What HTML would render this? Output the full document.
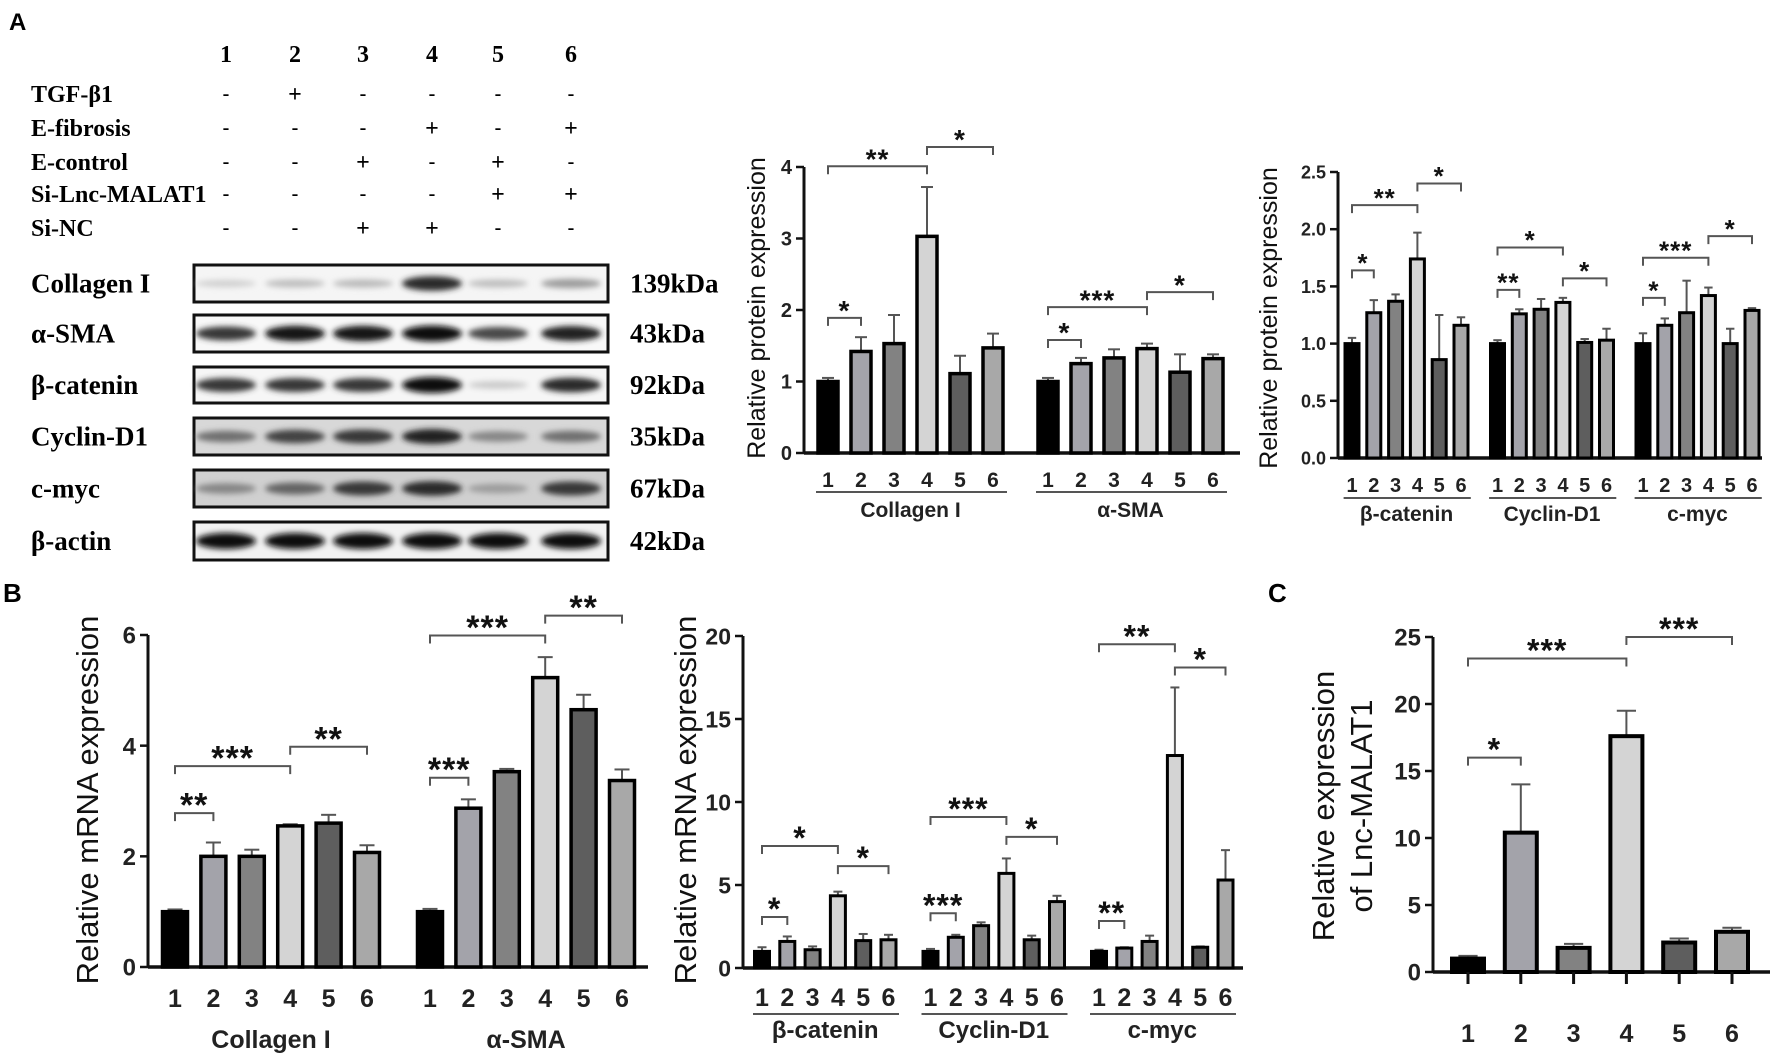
<!DOCTYPE html>
<html><head><meta charset="utf-8"><style>
html,body{margin:0;padding:0;background:#fff;}
svg{display:block;}
.sr{font-family:"Liberation Serif",serif;font-weight:bold;}
.ss{font-family:"Liberation Sans",sans-serif;}
</style></head><body>
<svg id="fig" width="1772" height="1055" viewBox="0 0 1772 1055" xmlns="http://www.w3.org/2000/svg">
<defs><filter id="blur" x="-20%" y="-100%" width="140%" height="300%"><feGaussianBlur stdDeviation="3"/></filter></defs>
<g id="root"></g>
</svg>
<script>
// ---------- Data ----------
const groupsA1 = ["Collagen I", "α-SMA"];
const valsA1 = [[1.0,1.42,1.53,3.03,1.11,1.47],[1.0,1.25,1.33,1.46,1.13,1.32]];
const errsA1 = [[1.05,1.62,1.93,3.72,1.36,1.67],[1.05,1.33,1.45,1.53,1.38,1.38]];
const ticksA1 = ["0","1","2","3","4"];
const groupsA3 = ["β-catenin", "Cyclin-D1", "c-myc"];
const valsA3 = [[1.0,1.27,1.37,1.74,0.86,1.16],[1.0,1.26,1.30,1.36,1.01,1.03],[1.0,1.16,1.27,1.42,1.0,1.29]];
const errsA3 = [[1.05,1.38,1.43,1.97,1.25,1.23],[1.03,1.30,1.39,1.40,1.04,1.13],[1.09,1.22,1.55,1.49,1.13,1.31]];
const ticksA3 = ["0.0","0.5","1.0","1.5","2.0","2.5"];
const groupsB1 = ["Collagen I", "α-SMA"];
const valsB1 = [[1.0,2.0,2.0,2.55,2.6,2.07],[1.0,2.87,3.53,5.23,4.65,3.37]];
const errsB1 = [[1.04,2.25,2.12,2.58,2.75,2.2],[1.05,3.03,3.58,5.6,4.92,3.57]];
const ticksB1 = ["0","2","4","6"];
const groupsB2 = ["β-catenin", "Cyclin-D1", "c-myc"];
const valsB2 = [[1.0,1.6,1.1,4.35,1.65,1.7],[1.0,1.85,2.55,5.7,1.7,4.0],[1.0,1.2,1.6,12.8,1.25,5.3]];
const errsB2 = [[1.25,1.9,1.3,4.6,2.05,2.0],[1.15,2.0,2.75,6.6,1.95,4.35],[1.1,1.25,1.95,16.9,1.3,7.1]];
const ticksB2 = ["0","5","10","15","20"];
const valsC = [1.0,10.4,1.8,17.6,2.2,3.0];
const errsC = [1.2,14.0,2.1,19.5,2.5,3.3];
const ticksC = ["0","5","10","15","20","25"];
const barLabels = ["1","2","3","4","5","6"];
// significance brackets: [group, from, to, level(data units), stars]
const sigA1 = [[0,0,1,1.89,"*"],[0,0,3,4.01,"**"],[0,3,5,4.28,"*"],[1,0,1,1.58,"*"],[1,0,3,2.04,"***"],[1,3,5,2.25,"*"]];
const sigA3 = [[0,0,1,1.64,"*"],[0,0,3,2.21,"**"],[0,3,5,2.40,"*"],[1,0,1,1.47,"**"],[1,0,3,1.84,"*"],[1,3,5,1.57,"*"],[2,0,1,1.40,"*"],[2,0,3,1.75,"***"],[2,3,5,1.94,"*"]];
const sigB1 = [[0,0,1,2.78,"**"],[0,0,3,3.63,"***"],[0,3,5,3.98,"**"],[1,0,1,3.42,"***"],[1,0,3,5.99,"***"],[1,3,5,6.35,"**"]];
const sigB2 = [[0,0,1,3.07,"*"],[0,0,3,7.35,"*"],[0,3,5,6.14,"*"],[1,0,1,3.3,"***"],[1,0,3,9.1,"***"],[1,3,5,7.9,"*"],[2,0,1,2.83,"**"],[2,0,3,19.5,"**"],[2,3,5,18.1,"*"]];
const sigC = [[0,0,1,16.0,"*"],[0,0,3,23.4,"***"],[0,3,5,25.0,"***"]];
// western blot band intensities
const blotProteins = ["Collagen I","α-SMA","β-catenin","Cyclin-D1","c-myc","β-actin"];
const blotKda = ["139kDa","43kDa","92kDa","35kDa","67kDa","42kDa"];
const blotIntensity = [[0.12,0.2,0.22,0.85,0.2,0.35],[0.8,0.95,0.95,1,0.72,0.9],[0.8,0.8,0.8,1,0.15,0.85],[0.55,0.75,0.8,0.9,0.45,0.55],[0.45,0.6,0.8,0.85,0.35,0.8],[1,1,1,1,1,1]];
const treatments = ["TGF-β1","E-fibrosis","E-control","Si-Lnc-MALAT1","Si-NC"];
const treatSigns = [["-","+","-","-","-","-"],["-","-","-","+","-","+"],["-","-","+","-","+","-"],["-","-","-","-","+","+"],["-","-","+","+","-","-"]];

const fills = ["#000000","#a3a3aa","#828282","#d4d4d4","#5e5e5e","#a8a8a8"];
const NS = "http://www.w3.org/2000/svg";
const root = document.getElementById("root");
function mk(tag, attrs, parent, txt){
  const e = document.createElementNS(NS, tag);
  for (const k in attrs) e.setAttribute(k, attrs[k]);
  if (txt !== undefined) e.textContent = txt;
  (parent || root).appendChild(e);
  return e;
}

// ---------- Panel A: treatment table ----------
let t = mk("text",{x:9,y:30,class:"ss","font-size":24,"font-weight":"bold"},root,"A");


const laneX = [226,295,363,432,498,571];
barLabels.forEach((l,i)=>{
  const e = mk("text",{x:laneX[i],y:62,class:"sr","font-size":24,"text-anchor":"middle"},root,l);
  
  
});
const rowY = [102,136,170,202,236];
treatments.forEach((tr,r)=>{
  const e = mk("text",{x:31,y:rowY[r],class:"sr","font-size":24},root,tr);
  
  
  treatSigns[r].forEach((s,i)=>{
    const q = mk("text",{x:laneX[i],y:rowY[r]-(s==="-"?2:0),class:"sr","font-size":s==="-"?20:24,"font-weight":"normal","text-anchor":"middle"},root,s);
    
    
  });
});

// ---------- Western blot ----------
const boxTop = [265,315,367,418,470,522];
const boxH = [37,37,36,37,37,38];
const boxBg = ["#f5f5f5","#f8f8f8","#f6f6f6","#d8d8d8","#d0d0d0","#f2f2f2"];
blotProteins.forEach((p,r)=>{
  const g = mk("g",{});
  
  
  mk("rect",{x:194,y:boxTop[r],width:414,height:boxH[r],fill:boxBg[r],stroke:"#111","stroke-width":3},g);
  blotIntensity[r].forEach((v,i)=>{
    const c = Math.round(235 - 225*v);
    const b = mk("ellipse",{cx:laneX[i],cy:boxTop[r]+boxH[r]/2,rx:30,ry:3+5*v,fill:`rgb(${c},${c},${c})`,filter:"url(#blur)"},g);
    
    
  });
  const l = mk("text",{x:31,y:boxTop[r]+boxH[r]/2+9,class:"sr","font-size":27},root,p);
  
  
  const k = mk("text",{x:630,y:boxTop[r]+boxH[r]/2+9,class:"sr","font-size":27},root,blotKda[r]);
  
  
});

// ---------- Bar chart helper ----------
function chart(cfg){
  const g = mk("g",{});
  
  
  const ymax = cfg.ymax;
  const Y = v => cfg.y0 - (v/ymax)*(cfg.y0-cfg.yTop);
  const X = (gi,bi) => cfg.x0 + gi*cfg.gGap + bi*cfg.step;
  cfg.ticks.forEach((tl,i)=>{
    const v = i*ymax/(cfg.ticks.length-1);
    mk("line",{x1:cfg.ax-8,x2:cfg.ax,y1:Y(v),y2:Y(v),stroke:"#111","stroke-width":2.5},g);
    const e = mk("text",{x:cfg.ax-12,y:Y(v)+cfg.tf*0.36,class:"ss","font-size":cfg.tf,"font-weight":"bold","text-anchor":"end",fill:"#222"},g,tl);
    
    
  });
  const ya = mk("line",{x1:cfg.ax,x2:cfg.ax,y1:cfg.yTop,y2:cfg.y0+1,stroke:"#111","stroke-width":3},g);
  
  
  const xa = mk("line",{x1:cfg.ax,x2:cfg.axEnd,y1:cfg.y0,y2:cfg.y0,stroke:"#111","stroke-width":3.5},g);
  
  
  const yl = mk("text",{x:0,y:0,class:"ss","font-size":cfg.ylf,"text-anchor":"middle",fill:"#111",transform:`translate(${cfg.ylx},${cfg.yly}) rotate(-90)`},g,cfg.ylabel[0]);
  
  
  if (cfg.ylabel[1]){
    const yl2 = mk("text",{x:0,y:0,class:"ss","font-size":cfg.ylf,"text-anchor":"middle",fill:"#111",transform:`translate(${cfg.ylx+38},${cfg.yly}) rotate(-90)`},g,cfg.ylabel[1]);
    
    
  }
  cfg.vals.forEach((arr,gi)=>{
    arr.forEach((v,bi)=>{
      const cx = X(gi,bi), e = cfg.errs[gi][bi];
      const eb = mk("g",{},g);
      
      
      mk("line",{x1:cx,x2:cx,y1:Y(v),y2:Y(e),stroke:"#555","stroke-width":2},eb);
      mk("line",{x1:cx-cfg.bw*0.3,x2:cx+cfg.bw*0.3,y1:Y(e),y2:Y(e),stroke:"#555","stroke-width":2},eb);
      const r = mk("rect",{x:cx-cfg.bw/2,y:Y(v),width:cfg.bw,height:cfg.y0-Y(v),fill:fills[bi],stroke:"#000","stroke-width":cfg.sw},g);
      
      
      if (cfg.xticks) mk("line",{x1:cx,x2:cx,y1:cfg.y0,y2:cfg.y0+12,stroke:"#111","stroke-width":3},g);
      const l = mk("text",{x:cx,y:cfg.labY,class:"ss","font-size":cfg.xf,"font-weight":"bold","text-anchor":"middle",fill:"#222"},g,barLabels[bi]);
      
      
    });
    if (cfg.groups){
      const gx0 = X(gi,0), gx1 = X(gi,5);
      if (cfg.ulY){
        const u = mk("line",{x1:gx0-cfg.bw*0.6,x2:gx1+cfg.bw*0.7,y1:cfg.ulY,y2:cfg.ulY,stroke:"#555","stroke-width":2},g);
        
        
      }
      const gl = mk("text",{x:(gx0+gx1)/2,y:cfg.gY,class:"ss","font-size":cfg.gf,"font-weight":"bold","text-anchor":"middle",fill:"#222"},g,cfg.groups[gi]);
      
      
    }
  });
  cfg.sig.forEach(s=>{
    const x1 = X(s[0],s[1]), x2 = X(s[0],s[2]), yy = Y(s[3]);
    const b = mk("g",{},g);
    
    
    mk("path",{d:`M${x1},${yy+8}V${yy}H${x2}V${yy+8}`,fill:"none",stroke:"#555","stroke-width":2},b);
    mk("text",{x:(x1+x2)/2,y:yy-4+cfg.sf*0.22,class:"ss","font-size":cfg.sf,"font-weight":"bold","text-anchor":"middle","letter-spacing":1,fill:"#111"},b,s[4]);
  });
}

chart({name:"chart-a-fibrosis-protein",vals:valsA1,errs:errsA1,groups:groupsA1,ticks:ticksA1,ymax:4,y0:453,yTop:167,ax:804,axEnd:1240,
  x0:828,step:33,gGap:220,bw:20,sw:3.5,tf:20,xf:21,labY:487,ulY:492,gY:517,gf:21,ylabel:["Relative protein expression"],ylf:25,ylx:765,yly:308,sig:sigA1,sf:28});
chart({name:"chart-a-wnt-protein",vals:valsA3,errs:errsA3,groups:groupsA3,ticks:ticksA3,ymax:2.5,y0:458,yTop:172,ax:1338,axEnd:1762,
  x0:1352,step:21.8,gGap:145.5,bw:14,sw:3,tf:18,xf:20,labY:492,ulY:498,gY:521,gf:21,ylabel:["Relative protein expression"],ylf:25,ylx:1277,yly:318,sig:sigA3,sf:26});
chart({name:"chart-b-fibrosis-mrna",vals:valsB1,errs:errsB1,groups:groupsB1,ticks:ticksB1,ymax:6,y0:967,yTop:635,ax:148,axEnd:648,
  x0:175,step:38.4,gGap:255,bw:25,sw:3.5,tf:24,xf:25,labY:1007,ulY:0,gY:1048,gf:25,ylabel:["Relative mRNA expression"],ylf:31,ylx:98,yly:800,sig:sigB1,sf:34});
chart({name:"chart-b-wnt-mrna",vals:valsB2,errs:errsB2,groups:groupsB2,ticks:ticksB2,ymax:20,y0:968,yTop:636,ax:743,axEnd:1243,
  x0:762,step:25.3,gGap:168.5,bw:15,sw:3,tf:23,xf:25,labY:1006,ulY:1014,gY:1038,gf:24,ylabel:["Relative mRNA expression"],ylf:31,ylx:696,yly:800,sig:sigB2,sf:32});
chart({name:"chart-c-malat1",vals:[valsC],errs:[errsC],groups:null,ticks:ticksC,ymax:25,y0:972,yTop:637,ax:1433,axEnd:1770,xticks:true,
  x0:1468,step:52.8,gGap:0,bw:32,sw:4,tf:24,xf:25,labY:1042,ulY:0,gY:0,gf:0,ylabel:["Relative expression","of Lnc-MALAT1"],ylf:31,ylx:1334,yly:806,sig:sigC,sf:32});

let lb = mk("text",{x:3,y:602,class:"ss","font-size":26,"font-weight":"bold"},root,"B");


let lc = mk("text",{x:1268,y:602,class:"ss","font-size":26,"font-weight":"bold"},root,"C");


</script>
</body></html>
